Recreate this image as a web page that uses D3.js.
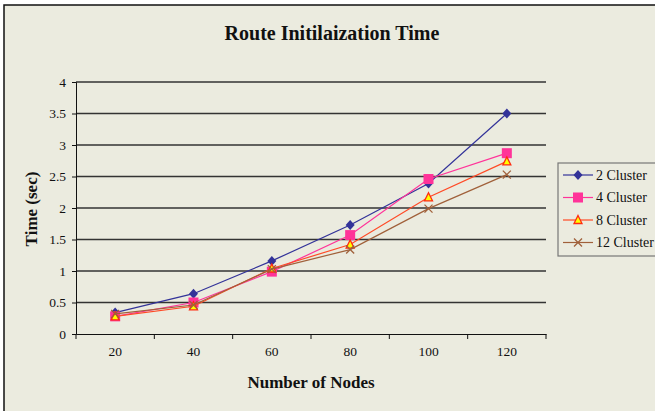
<!DOCTYPE html>
<meta charset="utf-8">
<style>
  body { margin: 0; background: #fff; }
  text { font-family: "Liberation Serif", "DejaVu Serif", serif; fill: #111; }
  .title { font-size: 20px; font-weight: bold; text-anchor: middle; }
  .axis-title { font-size: 17px; font-weight: bold; text-anchor: middle; }
  .legend text { font-size: 14px; }
</style>
<svg width="655" height="411"></svg>
<script src="https://d3js.org/d3.v7.min.js"></script>
<script>
// data
var nodes = ["20", "40", "60", "80", "100", "120"];
var seriesNames = ["2 Cluster", "4 Cluster", "8 Cluster", "12 Cluster"];
var cluster2 = [0.34, 0.64, 1.16, 1.73, 2.39, 3.5];
var cluster4 = [0.28, 0.50, 0.99, 1.57, 2.46, 2.87];
var cluster8 = [0.28, 0.44, 1.04, 1.42, 2.17, 2.74];
var cluster12 = [0.32, 0.46, 1.03, 1.34, 1.99, 2.53];
var yTicks = [0, 0.5, 1, 1.5, 2, 2.5, 3, 3.5, 4];

var svg = d3.select("svg");

// chart background + frame
svg.append("rect")
    .attr("x", 4).attr("y", 5)
    .attr("width", 660).attr("height", 420)
    .attr("fill", "#ebebdf")
    .attr("stroke", "#111")
    .attr("stroke-width", 1.5);

var x = d3.scaleBand().domain(nodes).range([76, 546]);
var y = d3.scaleLinear().domain([0, 4]).range([334, 82]);

// gridlines
svg.append("g")
    .selectAll("line")
    .data(yTicks.slice(1))
    .enter().append("line")
      .attr("x1", 76).attr("x2", 546)
      .attr("y1", function (d) { return y(d); })
      .attr("y2", function (d) { return y(d); })
      .attr("stroke", "#333")
      .attr("stroke-width", 1.4);

// axes
var yAxis = svg.append("g")
    .attr("transform", "translate(76,0)")
    .call(d3.axisLeft(y).tickValues(yTicks).tickSize(4).tickPadding(6)
      .tickFormat(function (d) { return d; }));
var xAxis = svg.append("g")
    .attr("transform", "translate(0,334)")
    .call(d3.axisBottom(x).tickSize(0).tickPadding(12));
// category boundary ticks
xAxis.selectAll(".sep")
    .data(nodes.concat(["end"]))
    .enter().append("line")
      .attr("class", "sep")
      .attr("x1", function (d, i) { return 76 + i * x.step(); })
      .attr("x2", function (d, i) { return 76 + i * x.step(); })
      .attr("y1", 0).attr("y2", 5)
      .attr("stroke", "#111");
yAxis.attr("font-family", "Liberation Serif").attr("font-size", 13.5);
xAxis.attr("font-family", "Liberation Serif").attr("font-size", 13.5);
svg.selectAll(".domain").attr("stroke", "#111");
svg.selectAll(".tick line").attr("stroke", "#111");
svg.selectAll(".tick text").attr("fill", "#111");

// titles
svg.append("text").attr("class", "title")
    .attr("x", 332).attr("y", 40)
    .text("Route Initilaization Time");
svg.append("text").attr("class", "axis-title")
    .attr("x", 311).attr("y", 388)
    .text("Number of Nodes");
svg.append("text").attr("class", "axis-title")
    .attr("transform", "translate(37,209) rotate(-90)")
    .text("Time (sec)");

// series
var series = [
  { name: seriesNames[0], values: cluster2, color: "#333399", marker: "diamond" },
  { name: seriesNames[1], values: cluster4, color: "#ff3399", marker: "square" },
  { name: seriesNames[2], values: cluster8, color: "#ff4a26", marker: "triangle" },
  { name: seriesNames[3], values: cluster12, color: "#a0603a", marker: "cross" }
];

function drawMarker(g, type, color) {
  if (type === "diamond") {
    g.append("path").attr("d", "M0,-5L4.5,0L0,5L-4.5,0Z").attr("fill", color);
  } else if (type === "square") {
    g.append("rect").attr("x", -5).attr("y", -5).attr("width", 10).attr("height", 10)
      .attr("fill", color);
  } else if (type === "triangle") {
    g.append("path").attr("d", "M0,-4.5L4,3.5L-4,3.5Z")
      .attr("fill", "#ffff00").attr("stroke", "#ff2a10").attr("stroke-width", 1.3);
  } else {
    g.append("path").attr("d", "M-4,-4L4,4M-4,4L4,-4")
      .attr("stroke", color).attr("stroke-width", 1.3).attr("fill", "none");
  }
}

var line = d3.line()
    .x(function (d, i) { return x(nodes[i]) + x.bandwidth() / 2; })
    .y(function (d) { return y(d); });

series.forEach(function (s) {
  svg.append("path")
      .attr("d", line(s.values))
      .attr("fill", "none")
      .attr("stroke", s.color)
      .attr("stroke-width", 1.2);
  s.values.forEach(function (v, i) {
    var g = svg.append("g")
        .attr("transform", "translate(" + (x(nodes[i]) + x.bandwidth() / 2) + "," + y(v) + ")");
    drawMarker(g, s.marker, s.color);
  });
});

// legend
var legend = svg.append("g").attr("class", "legend");
legend.append("rect")
    .attr("x", 558).attr("y", 163)
    .attr("width", 110).attr("height", 93)
    .attr("fill", "#ebebdf")
    .attr("stroke", "#777")
    .attr("stroke-width", 1.2);
series.forEach(function (s, i) {
  var cy = 175 + i * 22.5;
  legend.append("line")
      .attr("x1", 563).attr("x2", 593)
      .attr("y1", cy).attr("y2", cy)
      .attr("stroke", s.color).attr("stroke-width", 1.2);
  drawMarker(legend.append("g").attr("transform", "translate(578," + cy + ")"), s.marker, s.color);
  legend.append("text")
      .attr("x", 596).attr("y", cy + 4.5)
      .text(s.name);
});
</script>
